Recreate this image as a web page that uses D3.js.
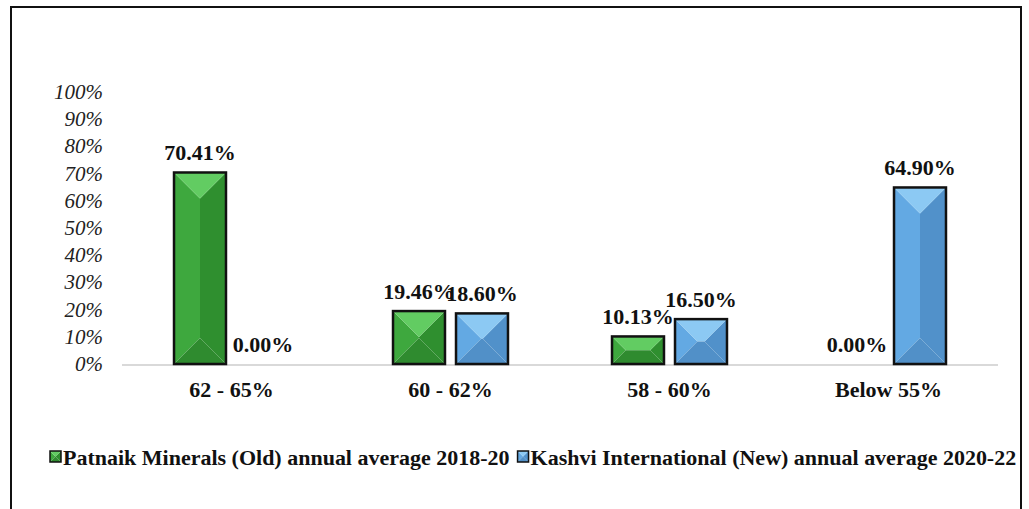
<!DOCTYPE html>
<html>
<head>
<meta charset="utf-8">
<script src="https://cdn.jsdelivr.net/npm/d3@7"></script>
<style>
  html, body { margin: 0; padding: 0; background: #fff; }
  svg { display: block; }
</style>
</head>
<body>
<svg id="chart" width="1029" height="509"></svg>
<script>
const categories = ["62 - 65%", "60 - 62%", "58 - 60%", "Below 55%"];
const seriesNames = ["Patnaik Minerals (Old) annual average 2018-20", "Kashvi International (New) annual average 2020-22"];
const patnaikValues = [70.41, 19.46, 10.13, 0.00];
const kashviValues = [0.00, 18.60, 16.50, 64.90];
const yTickValues = [0, 10, 20, 30, 40, 50, 60, 70, 80, 90, 100];

const palettes = [
  { top: "#62cc62", left: "#3ea83e", right: "#2f8f2f", bottom: "#2f8b2f" },
  { top: "#8cc9f3", left: "#63a9e3", right: "#5191ca", bottom: "#5190c8" }
];

const svg = d3.select("#chart");
const font = "'Liberation Serif', 'Times New Roman', serif";
const SX = 1.1;

// outer border
svg.append("rect").attr("x", 11).attr("y", 7).attr("width", 1010).attr("height", 520)
  .attr("fill", "none").attr("stroke", "#111").attr("stroke-width", 2);

const x0 = d3.scaleBand().domain(categories).range([122, 998]).paddingInner(0.475).paddingOuter(0.2375);
const x1 = d3.scaleBand().domain(seriesNames).range([0, x0.bandwidth()]).paddingInner(0.175).paddingOuter(0);
const y = d3.scaleLinear().domain([0, 100]).range([364, 92]);

// y axis labels
const yAxis = d3.axisLeft(y).tickValues(yTickValues).tickFormat(d => d + "%").tickSize(0).tickPadding(0);
const yg = svg.append("g").attr("transform", "translate(103,0)").call(yAxis);
yg.select(".domain").remove();
yg.selectAll("text").attr("font-family", font).attr("font-style", "italic")
  .attr("font-size", 20).attr("fill", "#222").attr("x", 0).attr("transform", "scale(1.05,1)");

// baseline
svg.append("line").attr("x1", 122).attr("x2", 998).attr("y1", y(0) + 1).attr("y2", y(0) + 1)
  .attr("stroke", "#d9d9d9").attr("stroke-width", 2);

// x axis labels
const xAxis = d3.axisBottom(x0).tickSize(0).tickPadding(0);
const xg = svg.append("g").attr("transform", "translate(0,383)").call(xAxis);
xg.select(".domain").remove();
xg.selectAll("text").attr("font-family", font).attr("font-weight", "bold")
  .attr("font-size", 20).attr("fill", "#111").attr("dy", "0.71em").attr("transform", `scale(${SX},1)`);

function bevel(g, x, yTop, w, h, pal, strokeW) {
  const d = Math.min(w, h) / 2;
  const x2 = x + w, y2 = yTop + h;
  const poly = (pts, fill) => g.append("polygon").attr("points", pts.map(p => p.join(",")).join(" ")).attr("fill", fill);
  poly([[x, yTop], [x + d, yTop + d], [x + d, y2 - d], [x, y2]], pal.left);
  poly([[x2, yTop], [x2 - d, yTop + d], [x2 - d, y2 - d], [x2, y2]], pal.right);
  poly([[x + d, yTop + d], [x2 - d, yTop + d], [x2 - d, y2 - d], [x + d, y2 - d]], pal.left);
  poly([[x, yTop], [x2, yTop], [x2 - d, yTop + d], [x + d, yTop + d]], pal.top);
  poly([[x, y2], [x2, y2], [x2 - d, y2 - d], [x + d, y2 - d]], pal.bottom);
  g.append("rect").attr("x", x).attr("y", yTop).attr("width", w).attr("height", h)
    .attr("fill", "none").attr("stroke", "#111").attr("stroke-width", strokeW);
}

function stretchedText(parent, x, yy, txt, anchor) {
  return parent.append("text")
    .attr("transform", `translate(${x},${yy}) scale(${SX},1)`)
    .attr("text-anchor", anchor)
    .attr("font-family", font).attr("font-weight", "bold").attr("font-size", 20)
    .attr("fill", "#111")
    .text(txt);
}

const seriesValues = [patnaikValues, kashviValues];
const barsG = svg.append("g");
categories.forEach((cat, ci) => {
  seriesNames.forEach((s, si) => {
    const v = seriesValues[si][ci];
    const bx = x0(cat) + x1(s);
    const bw = x1.bandwidth();
    if (v > 0) {
      bevel(barsG.append("g"), bx, y(v), bw, y(0) - y(v), palettes[si], 2.5);
    }
    stretchedText(barsG, bx + bw / 2, y(v) - 12, v.toFixed(2) + "%", "middle");
  });
});

// legend
const legend = svg.append("g");
let lx = 50;
seriesNames.forEach((s, si) => {
  const g = legend.append("g");
  bevel(g, lx, 451, 11, 11, palettes[si], 1.5);
  const t = stretchedText(g, lx + 13, 465, s, "start");
  lx += 13 + t.node().getComputedTextLength() * SX + 8;
});
</script>
</body>
</html>
